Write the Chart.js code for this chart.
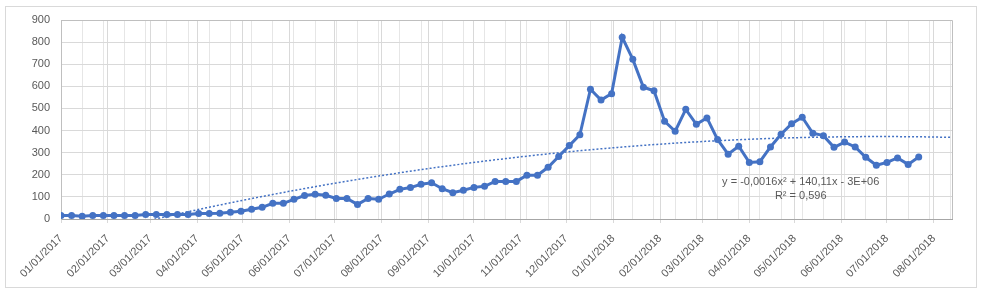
<!DOCTYPE html>
<html lang="en">
<head>
<meta charset="UTF-8">
<title>Weekly values with polynomial trend</title>
<script src="https://cdn.jsdelivr.net/npm/chart.js"></script>
<style>
  html, body { margin: 0; padding: 0; background: #fff; }
  #wrap { width: 981px; height: 295px; }
</style>
</head>
<body>
<div id="wrap"><canvas id="chart" width="981" height="295"></canvas></div>
<script>
// weekly observations
const weekDates = [
  '01/01/2017','01/08/2017','01/15/2017','01/22/2017','01/29/2017',
  '02/05/2017','02/12/2017','02/19/2017','02/26/2017',
  '03/05/2017','03/12/2017','03/19/2017','03/26/2017',
  '04/02/2017','04/09/2017','04/16/2017','04/23/2017','04/30/2017',
  '05/07/2017','05/14/2017','05/21/2017','05/28/2017',
  '06/04/2017','06/11/2017','06/18/2017','06/25/2017',
  '07/02/2017','07/09/2017','07/16/2017','07/23/2017','07/30/2017',
  '08/06/2017','08/13/2017','08/20/2017','08/27/2017',
  '09/03/2017','09/10/2017','09/17/2017','09/24/2017',
  '10/01/2017','10/08/2017','10/15/2017','10/22/2017','10/29/2017',
  '11/05/2017','11/12/2017','11/19/2017','11/26/2017',
  '12/03/2017','12/10/2017','12/17/2017','12/24/2017','12/31/2017',
  '01/07/2018','01/14/2018','01/21/2018','01/28/2018',
  '02/04/2018','02/11/2018','02/18/2018','02/25/2018',
  '03/04/2018','03/11/2018','03/18/2018','03/25/2018',
  '04/01/2018','04/08/2018','04/15/2018','04/22/2018','04/29/2018',
  '05/06/2018','05/13/2018','05/20/2018','05/27/2018',
  '06/03/2018','06/10/2018','06/17/2018','06/24/2018',
  '07/01/2018','07/08/2018','07/15/2018','07/22/2018'
];
const weekValues = [
  16, 16, 12, 16, 16, 16, 16, 16, 20, 20, 20, 20, 20, 25, 25, 26, 31, 35, 44, 53,
  71, 71, 89, 106, 112, 107, 93, 93, 66, 93, 89, 113, 134, 142, 157, 164, 137, 119, 130, 143,
  148, 170, 170, 170, 198, 198, 234, 283, 332, 381, 587, 538, 567, 822, 722, 596, 580, 442, 397, 496,
  428, 457, 360, 293, 329, 256, 259, 326, 383, 431, 460, 388, 377, 324, 348, 326, 279, 243, 256, 276,
  247, 280
];

// axis
const monthTicks = [
  '01/01/2017','02/01/2017','03/01/2017','04/01/2017','05/01/2017','06/01/2017','07/01/2017',
  '08/01/2017','09/01/2017','10/01/2017','11/01/2017','12/01/2017','01/01/2018','02/01/2018',
  '03/01/2018','04/01/2018','05/01/2018','06/01/2018','07/01/2018','08/01/2018'
];
const axisStart = '01/01/2017';
const axisEnd = '08/13/2018';
const yMin = 0, yMax = 900, yStep = 100;
const trendText = ['y = -0,0016x\u00B2 + 140,11x - 3E+06', 'R\u00B2 = 0,596'];

function toDay(s) {
  const [m, d, y] = s.split('/').map(Number);
  const [m0, d0, y0] = axisStart.split('/').map(Number);
  return Math.round((Date.UTC(y, m - 1, d) - Date.UTC(y0, m0 - 1, d0)) / 86400000);
}

const points = weekDates.map((d, i) => ({ x: toDay(d), y: weekValues[i] }));
const monthDays = monthTicks.map(toDay);
const endDay = toDay(axisEnd);

// order-2 least squares trend (same as the spreadsheet trendline)
function quadFit(pts) {
  let S = [0, 0, 0, 0, 0], T = [0, 0, 0];
  pts.forEach(p => {
    const u = p.x / 100;
    for (let k = 0; k < 5; k++) S[k] += Math.pow(u, k);
    for (let k = 0; k < 3; k++) T[k] += p.y * Math.pow(u, k);
  });
  const A = [[S[0], S[1], S[2], T[0]], [S[1], S[2], S[3], T[1]], [S[2], S[3], S[4], T[2]]];
  for (let i = 0; i < 3; i++) {
    for (let j = i + 1; j < 3; j++) {
      const f = A[j][i] / A[i][i];
      for (let k = i; k < 4; k++) A[j][k] -= f * A[i][k];
    }
  }
  const c = [0, 0, 0];
  for (let i = 2; i >= 0; i--) {
    let s = A[i][3];
    for (let k = i + 1; k < 3; k++) s -= A[i][k] * c[k];
    c[i] = s / A[i][i];
  }
  return x => { const u = x / 100; return c[0] + c[1] * u + c[2] * u * u; };
}
const trend = quadFit(points);
const trendPoints = [];
for (let d = 0; d <= endDay; d += 2) trendPoints.push({ x: d, y: trend(d) });

const frame = {
  id: 'frame',
  beforeDraw(chart) {
    const c = chart.ctx;
    c.save();
    c.fillStyle = '#fff';
    c.fillRect(0, 0, chart.width, chart.height);
    c.strokeStyle = '#d9d9d9';
    c.lineWidth = 1;
    c.strokeRect(5.5, 6.5, 971, 281);
    c.restore();
  },
  beforeDatasetsDraw(chart) {
    const a = chart.chartArea, c = chart.ctx;
    c.save();
    c.strokeStyle = '#bfbfbf';
    c.lineWidth = 1;
    c.beginPath();
    c.moveTo(Math.round(a.left) + 0.5, Math.round(a.top) + 0.5);
    c.lineTo(Math.round(a.right) + 0.5, Math.round(a.top) + 0.5);
    c.lineTo(Math.round(a.right) + 0.5, Math.round(a.bottom));
    c.stroke();
    c.restore();
  },
  afterDatasetsDraw(chart) {
    const c = chart.ctx;
    const x = chart.scales.x.getPixelForValue(toDay('05/05/2018'));
    const y = chart.scales.y.getPixelForValue(167);
    c.save();
    c.fillStyle = '#595959';
    c.font = '11px "Liberation Sans", Arial, sans-serif';
    c.textAlign = 'center';
    c.textBaseline = 'middle';
    c.fillText(trendText[0], x, y);
    c.fillText(trendText[1], x, y + 14);
    c.restore();
  }
};

const tickFont = { family: '"Liberation Sans", Arial, sans-serif', size: 11 };

new Chart(document.getElementById('chart'), {
  type: 'line',
  data: {
    datasets: [
      {
        label: 'Weekly value',
        data: points,
        borderColor: '#4472C4',
        backgroundColor: '#4472C4',
        borderWidth: 3,
        pointRadius: 3.5,
        pointBorderWidth: 0,
        tension: 0,
        order: 1
      },
      {
        label: 'Poly. (Weekly value)',
        data: trendPoints,
        borderColor: '#4472C4',
        borderWidth: 1.5,
        borderDash: [2, 2],
        pointRadius: 0,
        tension: 0,
        order: 2
      }
    ]
  },
  options: {
    responsive: false,
    animation: false,
    layout: { padding: { top: 20, right: 29, bottom: 0, left: 0 } },
    plugins: { legend: { display: false }, tooltip: { enabled: false } },
    scales: {
      x: {
        type: 'linear',
        position: 'bottom',
        min: 0,
        max: endDay,
        afterBuildTicks: s => { s.ticks = monthDays.map(v => ({ value: v })); },
        afterFit: s => { s.height = 76; },
        ticks: {
          autoSkip: false,
          minRotation: 45,
          maxRotation: 45,
          padding: 9,
          color: '#595959',
          font: tickFont,
          callback: (v, i) => monthTicks[i]
        },
        grid: { color: '#d9d9d9', tickLength: 4 },
        border: { color: '#a6a6a6' }
      },
      xMinor: {
        type: 'linear',
        position: 'bottom',
        min: 0,
        max: endDay,
        afterBuildTicks: s => {
          const t = [];
          for (let d = 14; d < endDay; d += 14) t.push({ value: d });
          s.ticks = t;
        },
        afterFit: s => { s.height = 0; },
        ticks: { display: false },
        grid: { color: '#e6e6e6', drawTicks: false, z: -2 },
        border: { display: false }
      },
      y: {
        min: yMin,
        max: yMax,
        afterFit: s => { s.width = 61; },
        ticks: { stepSize: yStep, color: '#595959', font: tickFont, padding: 11 },
        grid: { color: '#d9d9d9', drawTicks: false },
        border: { color: '#bfbfbf' }
      }
    }
  },
  plugins: [frame]
});
</script>
</body>
</html>
